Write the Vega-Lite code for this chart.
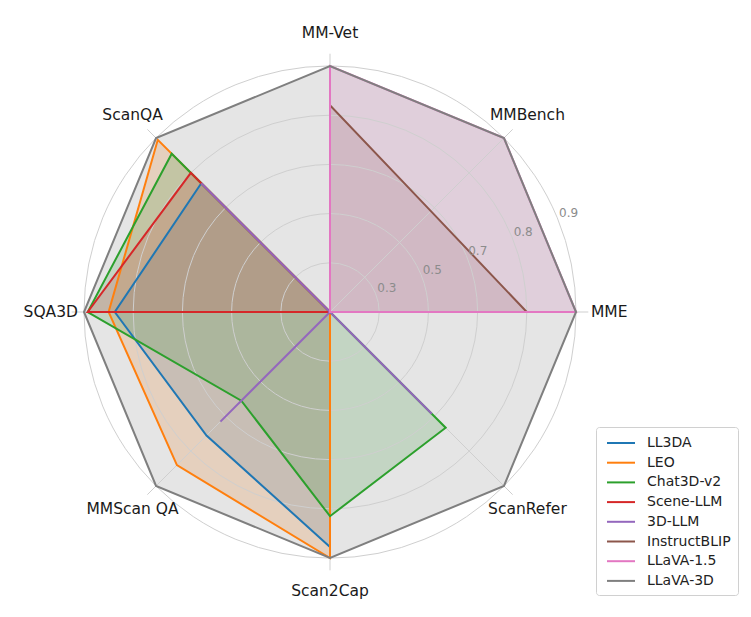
{
  "$schema": "https://vega.github.io/schema/vega-lite/v6.json",
  "width": 751,
  "height": 617,
  "autosize": "none",
  "padding": 0,
  "background": "white",
  "config": {"view": {"stroke": null}, "font": "DejaVu Sans"},
  "datasets": {
    "axes": [
      {"axis": "MME", "k": 0},
      {"axis": "MMBench", "k": 1},
      {"axis": "MM-Vet", "k": 2},
      {"axis": "ScanQA", "k": 3},
      {"axis": "SQA3D", "k": 4},
      {"axis": "MMScan QA", "k": 5},
      {"axis": "Scan2Cap", "k": 6},
      {"axis": "ScanRefer", "k": 7}
    ],
    "rings": [
      {"r": 0.2, "label": "0.3"},
      {"r": 0.4, "label": "0.5"},
      {"r": 0.6, "label": "0.7"},
      {"r": 0.8, "label": "0.8"},
      {"r": 1.0, "label": "0.9"}
    ],
    "scores": [
      {"model": "LL3DA", "axis": "MME", "value": 0},
      {"model": "LL3DA", "axis": "MMBench", "value": 0},
      {"model": "LL3DA", "axis": "MM-Vet", "value": 0},
      {"model": "LL3DA", "axis": "ScanQA", "value": 0.74},
      {"model": "LL3DA", "axis": "SQA3D", "value": 0.875},
      {"model": "LL3DA", "axis": "MMScan QA", "value": 0.71},
      {"model": "LL3DA", "axis": "Scan2Cap", "value": 0.955},
      {"model": "LL3DA", "axis": "ScanRefer", "value": 0},
      {"model": "LEO", "axis": "MME", "value": 0},
      {"model": "LEO", "axis": "MMBench", "value": 0},
      {"model": "LEO", "axis": "MM-Vet", "value": 0},
      {"model": "LEO", "axis": "ScanQA", "value": 0.99},
      {"model": "LEO", "axis": "SQA3D", "value": 0.9},
      {"model": "LEO", "axis": "MMScan QA", "value": 0.88},
      {"model": "LEO", "axis": "Scan2Cap", "value": 1.0},
      {"model": "LEO", "axis": "ScanRefer", "value": 0},
      {"model": "Chat3D-v2", "axis": "MME", "value": 0},
      {"model": "Chat3D-v2", "axis": "MMBench", "value": 0},
      {"model": "Chat3D-v2", "axis": "MM-Vet", "value": 0},
      {"model": "Chat3D-v2", "axis": "ScanQA", "value": 0.91},
      {"model": "Chat3D-v2", "axis": "SQA3D", "value": 0.985},
      {"model": "Chat3D-v2", "axis": "MMScan QA", "value": 0.51},
      {"model": "Chat3D-v2", "axis": "Scan2Cap", "value": 0.83},
      {"model": "Chat3D-v2", "axis": "ScanRefer", "value": 0.665},
      {"model": "Scene-LLM", "axis": "MME", "value": 0},
      {"model": "Scene-LLM", "axis": "MMBench", "value": 0},
      {"model": "Scene-LLM", "axis": "MM-Vet", "value": 0},
      {"model": "Scene-LLM", "axis": "ScanQA", "value": 0.8},
      {"model": "Scene-LLM", "axis": "SQA3D", "value": 0.985},
      {"model": "Scene-LLM", "axis": "MMScan QA", "value": 0},
      {"model": "Scene-LLM", "axis": "Scan2Cap", "value": 0},
      {"model": "Scene-LLM", "axis": "ScanRefer", "value": 0},
      {"model": "3D-LLM", "axis": "MME", "value": 0},
      {"model": "3D-LLM", "axis": "MMBench", "value": 0},
      {"model": "3D-LLM", "axis": "MM-Vet", "value": 0},
      {"model": "3D-LLM", "axis": "ScanQA", "value": 0.74},
      {"model": "3D-LLM", "axis": "SQA3D", "value": 0},
      {"model": "3D-LLM", "axis": "MMScan QA", "value": 0.63},
      {"model": "3D-LLM", "axis": "Scan2Cap", "value": 0},
      {"model": "3D-LLM", "axis": "ScanRefer", "value": 0.585},
      {"model": "InstructBLIP", "axis": "MME", "value": 0.8},
      {"model": "InstructBLIP", "axis": "MMBench", "value": 0.58},
      {"model": "InstructBLIP", "axis": "MM-Vet", "value": 0.84},
      {"model": "InstructBLIP", "axis": "ScanQA", "value": 0},
      {"model": "InstructBLIP", "axis": "SQA3D", "value": 0},
      {"model": "InstructBLIP", "axis": "MMScan QA", "value": 0},
      {"model": "InstructBLIP", "axis": "Scan2Cap", "value": 0},
      {"model": "InstructBLIP", "axis": "ScanRefer", "value": 0},
      {"model": "LLaVA-1.5", "axis": "MME", "value": 1.0},
      {"model": "LLaVA-1.5", "axis": "MMBench", "value": 1.0},
      {"model": "LLaVA-1.5", "axis": "MM-Vet", "value": 1.0},
      {"model": "LLaVA-1.5", "axis": "ScanQA", "value": 0},
      {"model": "LLaVA-1.5", "axis": "SQA3D", "value": 0},
      {"model": "LLaVA-1.5", "axis": "MMScan QA", "value": 0},
      {"model": "LLaVA-1.5", "axis": "Scan2Cap", "value": 0},
      {"model": "LLaVA-1.5", "axis": "ScanRefer", "value": 0},
      {"model": "LLaVA-3D", "axis": "MME", "value": 1.0},
      {"model": "LLaVA-3D", "axis": "MMBench", "value": 1.0},
      {"model": "LLaVA-3D", "axis": "MM-Vet", "value": 1.0},
      {"model": "LLaVA-3D", "axis": "ScanQA", "value": 1.0},
      {"model": "LLaVA-3D", "axis": "SQA3D", "value": 1.0},
      {"model": "LLaVA-3D", "axis": "MMScan QA", "value": 1.0},
      {"model": "LLaVA-3D", "axis": "Scan2Cap", "value": 1.0},
      {"model": "LLaVA-3D", "axis": "ScanRefer", "value": 1.0}
    ]
  },
  "layer": [
    {
      "data": {"name": "scores"},
      "transform": [
        {"lookup": "axis", "from": {"data": {"name": "axes"}, "key": "axis", "fields": ["k"]}},
        {"calculate": "datum.k * PI / 4", "as": "ang"},
        {"calculate": "datum.value * cos(datum.ang)", "as": "px"},
        {"calculate": "datum.value * sin(datum.ang)", "as": "py"}
      ],
      "mark": {"type": "line", "interpolate": "linear-closed", "filled": true, "fillOpacity": 0.2},
      "encoding": {
        "x": {"field": "px", "type": "quantitative", "axis": null, "scale": {"domain": [-1.3415, 1.7114], "nice": false, "zero": false}},
        "y": {"field": "py", "type": "quantitative", "axis": null, "scale": {"domain": [-1.2398, 1.2683], "nice": false, "zero": false}},
        "order": {"field": "k", "type": "quantitative"},
        "color": {"field": "model", "type": "nominal",
          "scale": {"domain": ["LL3DA", "LEO", "Chat3D-v2", "Scene-LLM", "3D-LLM", "InstructBLIP", "LLaVA-1.5", "LLaVA-3D"],
                    "range": ["#1f77b4", "#ff7f0e", "#2ca02c", "#d62728", "#9467bd", "#8c564b", "#e377c2", "#7f7f7f"]},
          "legend": {"title": null, "orient": "none", "legendX": 596, "legendY": 427,
            "symbolType": "M-1.75,0H1.75", "symbolSize": 256, "symbolStrokeWidth": 2, "symbolOffset": 9,
            "labelFontSize": 14, "labelFont": "DejaVu Sans", "labelColor": "#222222",
            "strokeColor": "#d0d0d0", "fillColor": "white", "padding": 7, "cornerRadius": 3,
            "labelOffset": 17, "rowPadding": 3.7,
            "encode": {"symbols": {"update": {"stroke": {"scale": "color", "field": "value"}, "fill": {"value": "transparent"}, "strokeWidth": {"value": 2}, "opacity": {"value": 1}, "strokeOpacity": {"value": 1}}}}}}
      }
    },
    {
      "data": {"name": "rings"},
      "mark": {"type": "point", "shape": "circle", "filled": false, "stroke": "#cfcfcf", "strokeWidth": 1, "opacity": 1},
      "encoding": {
        "x": {"datum": 0, "type": "quantitative"},
        "y": {"datum": 0, "type": "quantitative"},
        "size": {"field": "r", "type": "quantitative", "legend": null, "scale": {"type": "pow", "exponent": 2, "domain": [0, 1], "range": [0, 242064], "zero": true}}
      }
    },
    {
      "data": {"name": "axes"},
      "transform": [
        {"calculate": "datum.k * PI / 4", "as": "ang"},
        {"calculate": "1.05 * cos(datum.ang)", "as": "ex"},
        {"calculate": "1.05 * sin(datum.ang)", "as": "ey"}
      ],
      "mark": {"type": "rule", "stroke": "#cfcfcf", "strokeWidth": 1},
      "encoding": {
        "x": {"field": "ex", "type": "quantitative"},
        "y": {"field": "ey", "type": "quantitative"},
        "x2": {"datum": 0},
        "y2": {"datum": 0}
      }
    },
    {
      "data": {"name": "scores"},
      "transform": [
        {"lookup": "axis", "from": {"data": {"name": "axes"}, "key": "axis", "fields": ["k"]}},
        {"calculate": "datum.k * PI / 4", "as": "ang"},
        {"calculate": "datum.value * cos(datum.ang)", "as": "px"},
        {"calculate": "datum.value * sin(datum.ang)", "as": "py"}
      ],
      "mark": {"type": "line", "interpolate": "linear-closed", "strokeWidth": 2},
      "encoding": {
        "x": {"field": "px", "type": "quantitative"},
        "y": {"field": "py", "type": "quantitative"},
        "order": {"field": "k", "type": "quantitative"},
        "color": {"field": "model", "type": "nominal"}
      }
    },
    {
      "data": {"name": "rings"},
      "transform": [
        {"calculate": "(datum.r + 0.05) * cos(PI / 8)", "as": "tx"},
        {"calculate": "(datum.r + 0.05) * sin(PI / 8)", "as": "ty"}
      ],
      "mark": {"type": "text", "align": "center", "baseline": "middle", "fontSize": 12, "color": "#8c8c8c"},
      "encoding": {
        "x": {"field": "tx", "type": "quantitative"},
        "y": {"field": "ty", "type": "quantitative"},
        "text": {"field": "label"}
      }
    },
    {
      "data": {"name": "axes"},
      "transform": [
        {"calculate": "datum.k * PI / 4", "as": "ang"},
        {"calculate": "1.135 * cos(datum.ang)", "as": "lx"},
        {"calculate": "1.135 * sin(datum.ang)", "as": "ly"}
      ],
      "mark": {"type": "text", "align": "center", "baseline": "middle", "fontSize": 15.5, "color": "#1a1a1a"},
      "encoding": {
        "x": {"field": "lx", "type": "quantitative"},
        "y": {"field": "ly", "type": "quantitative"},
        "text": {"field": "axis"}
      }
    }
  ]
}
